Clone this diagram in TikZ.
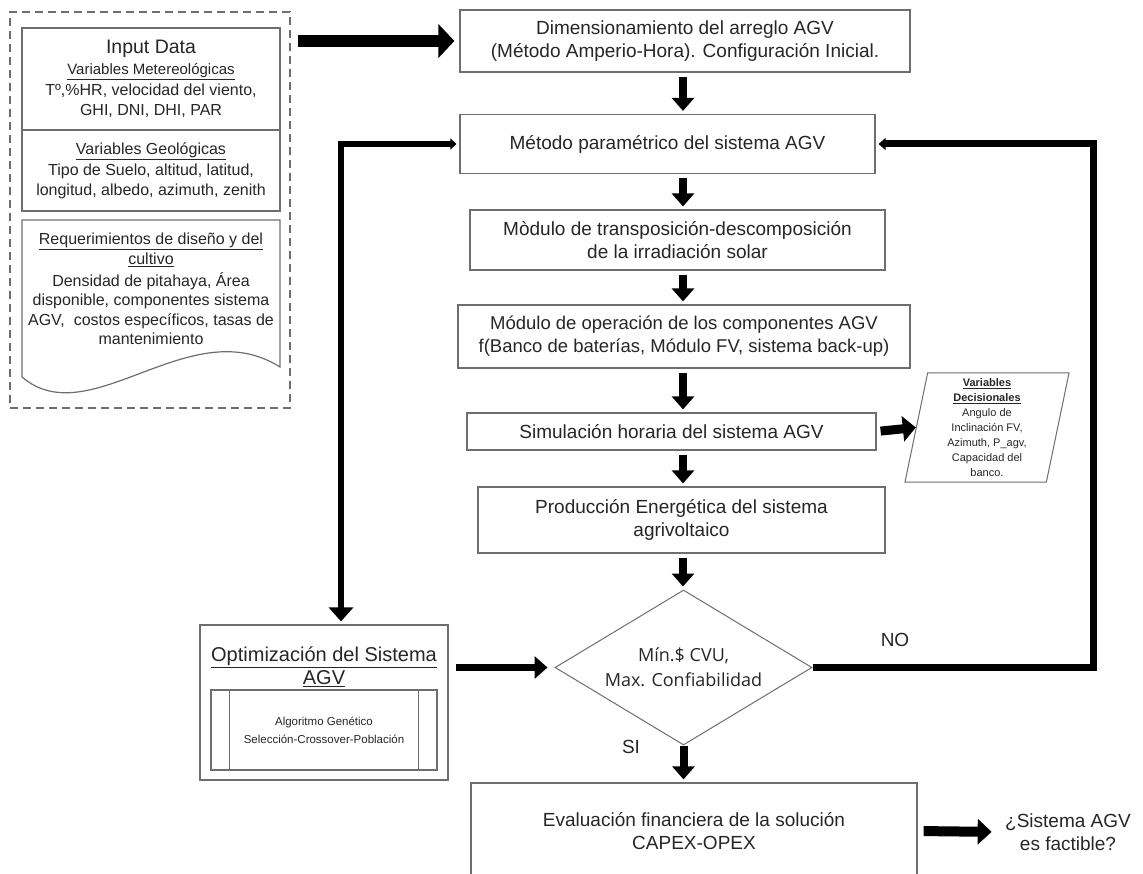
\documentclass[tikz,border=0pt]{standalone}
\usepackage{fontspec}
\setmainfont{Liberation Sans}
\newfontfamily\rombofont{Open Sans}
\usetikzlibrary{arrows.meta,shapes.geometric,positioning}
\definecolor{borde}{HTML}{6E6E6E}
\definecolor{texto}{HTML}{262626}
\newcommand{\fcaja}{\fontsize{19}{23}\selectfont}
\newcommand{\fdatos}{\fontsize{16}{19.5}\selectfont}
\newcommand{\fchica}{\fontsize{11}{15}\selectfont}

\begin{document}
\begin{tikzpicture}[x=1pt,y=-1pt,
    caja/.style={draw=borde,line width=1.2pt,text=texto,align=center,inner sep=0pt,font=\fcaja},
    flecha/.style={line width=8pt,-{Triangle[width=22pt,length=13pt]},shorten <=4pt,shorten >=3pt},
    lazo/.style={line width=7pt},
    etiqueta/.style={text=texto,font=\fcaja}]
  \clip (0,0) rectangle (1143,874);
  \fill[white] (0,0) rectangle (1143,874);

  % datos de entrada
  \node[draw=borde,dash pattern=on 8pt off 5pt,line width=1.2pt,minimum width=280pt,minimum height=396pt] (entrada) at (150,210) {};
  \node[caja,font=\fdatos,minimum width=258pt,minimum height=102pt] (datos) at (151,79)
    {{\fontsize{19.5}{22}\selectfont Input Data}\\[1pt]
     {\fontsize{15}{18}\selectfont\underline{Variables Metereológicas}}\\[2pt]
     Tº,\%HR, velocidad del viento,\\ GHI, DNI, DHI, PAR};
  \node[caja,font=\fdatos,minimum width=258pt,minimum height=81pt] (geo) at (151,170.5)
    {\underline{Variables Geológicas}\\[2pt] Tipo de Suelo, altitud, latitud,\\ longitud, albedo, azimuth, zenith};
  \draw[borde,line width=1.2pt] (22,220) -- (280,220) -- (280,367)
    .. controls (190,310) and (90,435) .. (22,377) -- cycle;
  \node[text=texto,font=\fdatos,align=center,inner sep=0pt] (req) at (151,289)
    {\underline{Requerimientos de diseño y del}\\[1pt] \underline{cultivo}\\[2pt] Densidad de pitahaya, Área\\
     disponible, componentes sistema\\ AGV,\ \ costos específicos, tasas de\\ mantenimiento};

  % cadena principal
  \coordinate (eje) at (683,0);
  \node[caja,minimum width=450pt,minimum height=62pt] (dim) at (685,41)
    {Dimensionamiento del arreglo AGV\\ (Método Amperio-Hora). Configuración Inicial.};
  \node[caja,minimum width=415pt,minimum height=59pt] (met) at (667.5,144)
    {Método paramétrico del sistema AGV};
  \node[caja,minimum width=415pt,minimum height=60pt] (trans) at (677.5,240)
    {Mòdulo de transposición-descomposición\\ de la irradiación solar};
  \node[caja,font=\fontsize{18.5}{23}\selectfont,minimum width=452pt,minimum height=63pt] (oper) at (684,336.5)
    {Módulo de operación de los componentes AGV\\ f(Banco de baterías, Módulo FV, sistema back-up)};
  \node[caja,minimum width=409pt,minimum height=37pt] (sim) at (671.5,431.5)
    {Simulación horaria del sistema AGV};
  \node[caja,minimum width=407pt,minimum height=66pt] (prod) at (681.5,520)
    {Producción Energética del sistema\\ agrivoltaico};
  \node[caja,diamond,aspect=1.66,line width=1pt,minimum width=257pt,minimum height=155pt,
    font=\rombofont\fontsize{18}{25}\selectfont] (dec) at (683.5,667.5)
    {Mín.\$ CVU,\\ Max. Confiabilidad};
  \node[caja,minimum width=446pt,minimum height=96pt] (eval) at (694,831)
    {Evaluación financiera de la solución\\ CAPEX-OPEX};
  \node[etiqueta,align=center,font=\fontsize{19}{23}\selectfont] (fact) at (1068,832)
    {¿Sistema AGV\\ es factible?};

  \node[caja,trapezium,trapezium left angle=77,trapezium right angle=103,trapezium stretches body,
    line width=1pt,minimum width=164pt,minimum height=109pt,font=\fchica] (decis) at (987,427.5)
    {{\bfseries\underline{Variables}}\\ {\bfseries\underline{Decisionales}}\\ Angulo de\\
     Inclinación FV,\\ Azimuth, P\_agv,\\ Capacidad del\\ banco.};

  % optimizacion
  \node[caja,minimum width=248pt,minimum height=155pt] (opt) at (324,702.5) {};
  \node[etiqueta,align=center,inner sep=0pt,font=\fontsize{20}{23}\selectfont,below=22pt of opt.north] (opttit)
    {\underline{Optimización del Sistema}\\ \underline{AGV}};
  \node[caja,minimum width=226pt,minimum height=80pt,font=\fontsize{11.5}{18}\selectfont] (alg) at (324,730)
    {Algoritmo Genético\\ Selección-Crossover-Población};
  \draw[borde,line width=1.2pt] ([xshift=19pt]alg.north west) -- ([xshift=19pt]alg.south west)
    ([xshift=-19pt]alg.north east) -- ([xshift=-19pt]alg.south east);

  % flechas
  \draw[line width=12pt,-{Triangle[width=33pt,length=16pt]},shorten <=7pt,shorten >=5pt]
    (entrada.east |- dim.west) -- (dim.west);
  \draw[flecha] (dim.south -| eje) -- (met.north -| eje);
  \draw[flecha] (met.south -| eje) -- (trans.north -| eje);
  \draw[flecha] (trans.south -| eje) -- (oper.north -| eje);
  \draw[flecha] (oper.south -| eje) -- (sim.north -| eje);
  \draw[flecha] (sim.south -| eje) -- (prod.north -| eje);
  \draw[flecha] (prod.south -| eje) -- (dec.north -| eje);
  \draw[flecha,shorten <=0pt] (dec.south) -- (eval.north -| dec.south);
  \draw[flecha,line width=9pt,-{Triangle[width=25pt,length=13pt]},shorten >=0pt] (sim.east) -- (decis.west);
  \draw[flecha,line width=7pt,shorten <=7pt,shorten >=7pt] (opt.east |- dec.west) -- (dec.west);
  \draw[flecha,line width=10pt,-{Triangle[width=25pt,length=14pt]},shorten <=6pt,shorten >=10pt]
    (eval.east) -- (fact.west);

  % lazos de retorno
  \coordinate (retno) at (1093,667.5);
  \draw[lazo,-{Triangle[width=12pt,length=7pt]},shorten >=3pt] (dec.east) -- (retno) |- (met.east);
  \draw[lazo,line width=6pt,{Triangle[width=11pt,length=6pt]}-{Triangle[width=24pt,length=14pt]},
    shorten <=3pt,shorten >=3pt] (met.west) -| ([xshift=17pt]opt.north);
  \node[etiqueta] (no) at (895,640) {NO};
  \node[etiqueta] (si) at (631,747) {SI};
\end{tikzpicture}
\end{document}
